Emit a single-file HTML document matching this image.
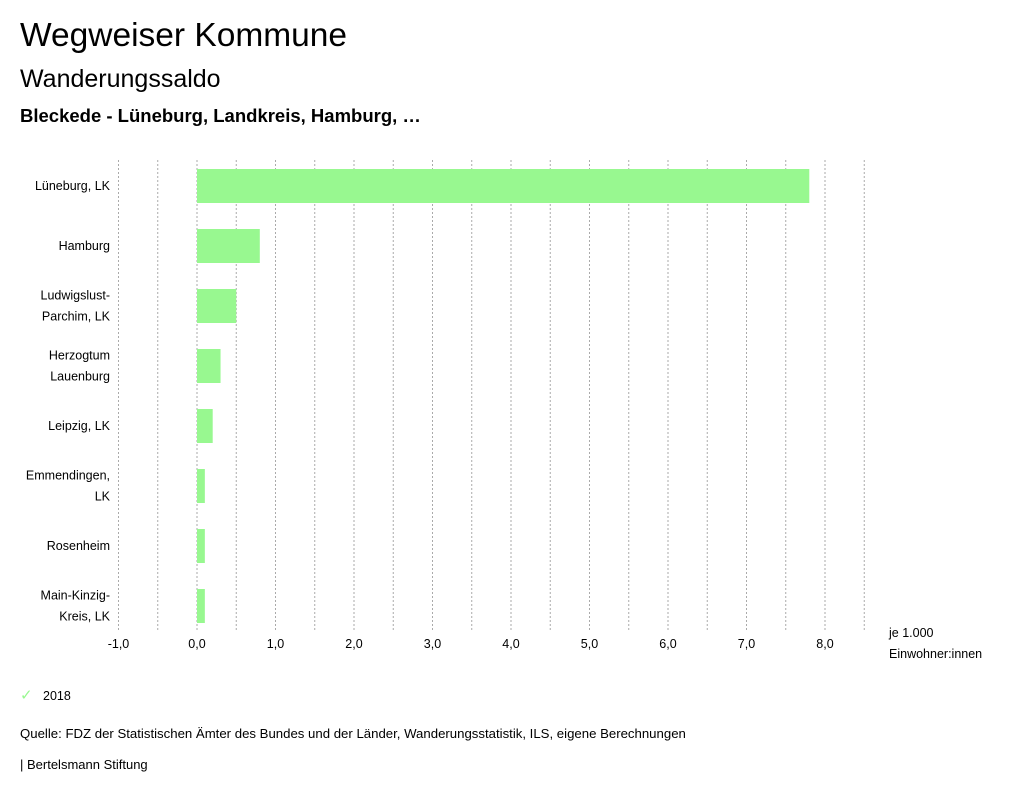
<!DOCTYPE html>
<html><head><meta charset="utf-8"><style>
body{margin:0;width:1024px;height:797px;background:#fff;font-family:"Liberation Sans",sans-serif;color:#000;overflow:hidden}
.t{position:absolute;left:20px;white-space:nowrap}
</style></head><body>
<div class="t" style="top:17px;font-size:33.5px">Wegweiser Kommune</div>
<div class="t" style="top:65px;font-size:25px">Wanderungssaldo</div>
<div class="t" style="top:105px;font-size:18.5px;font-weight:bold">Bleckede - Lüneburg, Landkreis, Hamburg, …</div>
<svg id="c" width="1024" height="797" style="position:absolute;left:0;top:0"></svg>
<div class="t" style="top:686px;font-size:12.5px"><span style="color:#98f890;font-size:15px">✓</span>&nbsp;&nbsp;&nbsp;2018</div>
<div class="t" style="top:726px;font-size:13.2px">Quelle: FDZ der Statistischen Ämter des Bundes und der Länder, Wanderungsstatistik, ILS, eigene Berechnungen</div>
<div class="t" style="top:757px;font-size:13px">| Bertelsmann Stiftung</div>
<script>
const categories=[["Lüneburg, LK"],["Hamburg"],["Ludwigslust-","Parchim, LK"],["Herzogtum","Lauenburg"],["Leipzig, LK"],["Emmendingen,","LK"],["Rosenheim"],["Main-Kinzig-","Kreis, LK"]];
const values=[7.8,0.8,0.5,0.3,0.2,0.1,0.1,0.1];
const tickLabels=["-1,0","0,0","1,0","2,0","3,0","4,0","5,0","6,0","7,0","8,0"];
const tickValues=[-1,0,1,2,3,4,5,6,7,8];
const NS="http://www.w3.org/2000/svg",svg=document.getElementById('c');
const x=v=>197+v*78.5, rowY=i=>186+i*60;
function mk(t,a){const e=document.createElementNS(NS,t);for(const k in a)e.setAttribute(k,a[k]);svg.appendChild(e);return e;}
for(let v=-1;v<=8.5;v+=0.5){
 const g=mk('line',{x1:x(v),x2:x(v),y1:160,y2:632,stroke:'#aaa','stroke-dasharray':'2,2','stroke-width':1});
 
 
}
tickValues.forEach((v,i)=>{
 const t=mk('text',{x:x(v),y:648,'text-anchor':'middle','font-size':12.5});
 t.textContent=tickLabels[i];
 
 
});
values.forEach((v,i)=>{
 const r=mk('rect',{x:Math.min(x(0),x(v)),y:rowY(i)-17,width:Math.abs(x(v)-x(0)),height:34,fill:'#98f890'});
 
 
 const lines=categories[i];
 lines.forEach((l,j)=>{
  const t=mk('text',{x:110,y:rowY(i)+4+(j-(lines.length-1)/2)*21,'text-anchor':'end','font-size':12.5});
  t.textContent=l;
  
  
 });
});
[["je 1.000",637],["Einwohner:innen",658]].forEach(a=>{
 const t=mk('text',{x:889,y:a[1],'font-size':12.5});t.textContent=a[0];
 
 
});
</script>
</body></html>
